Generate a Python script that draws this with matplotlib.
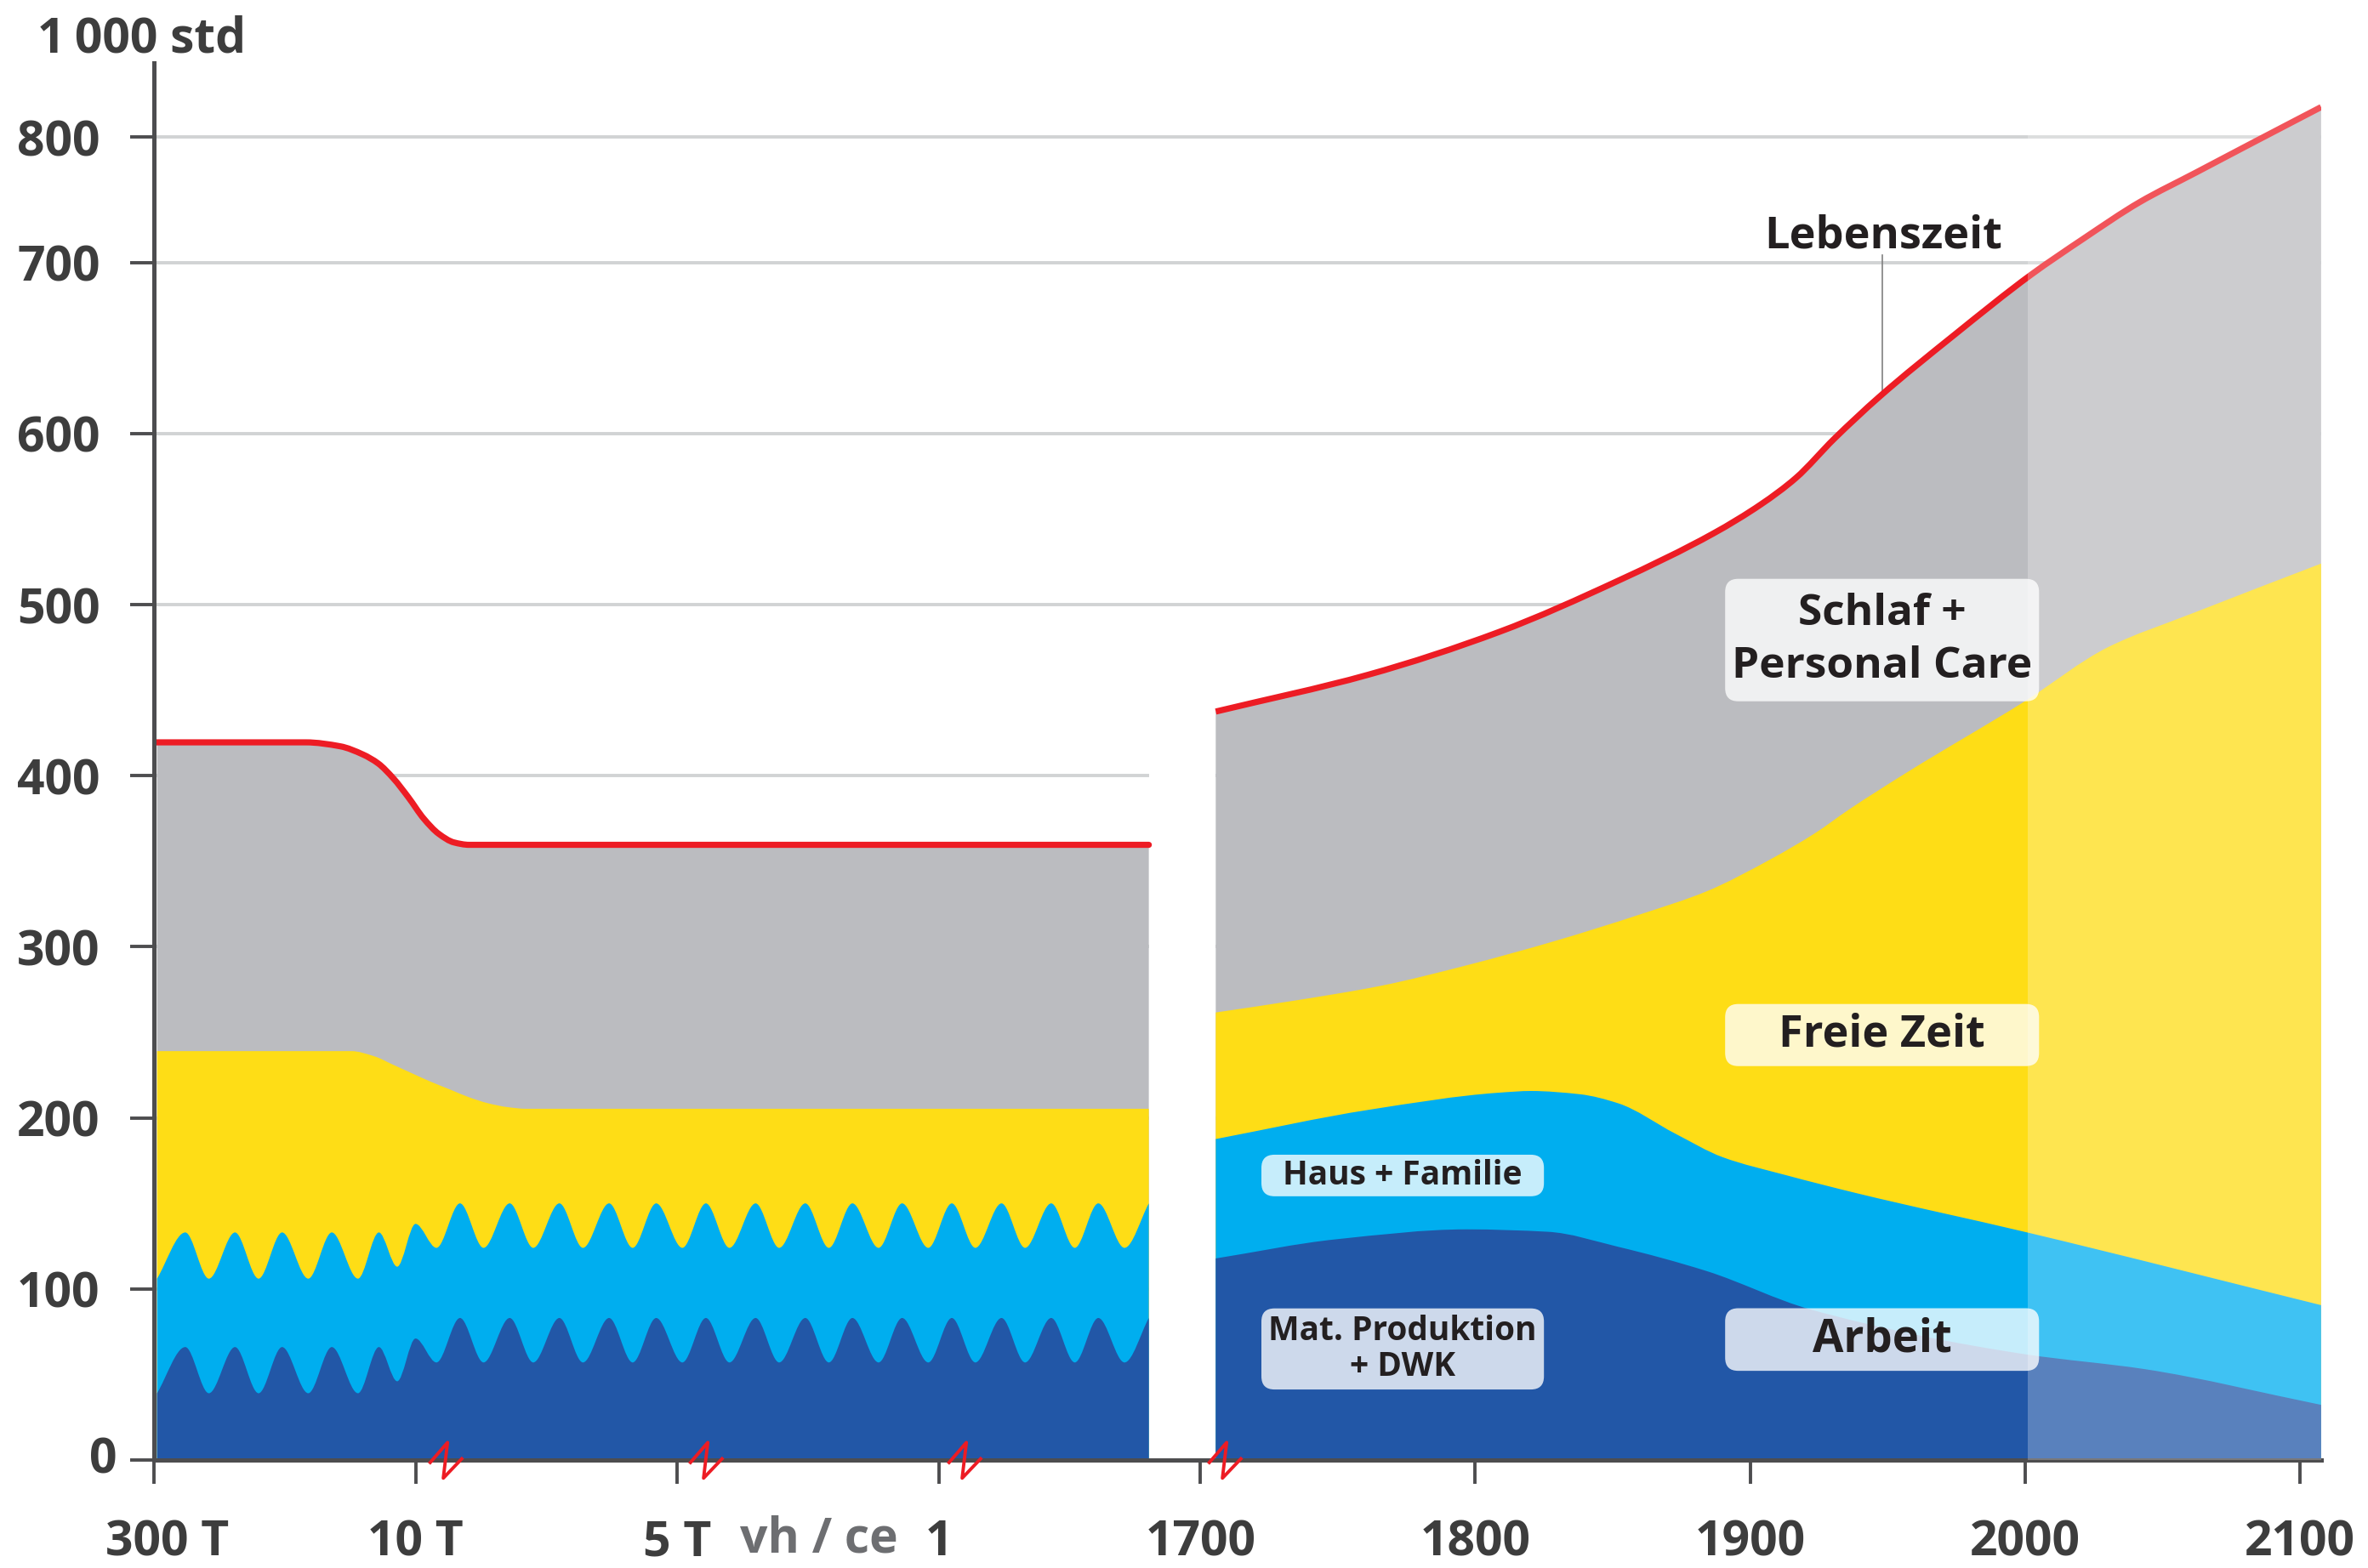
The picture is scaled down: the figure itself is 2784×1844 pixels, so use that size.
import numpy as np
import matplotlib
matplotlib.use("Agg")
import matplotlib.pyplot as plt
from matplotlib.path import Path
from matplotlib.patches import PathPatch, Rectangle, FancyBboxPatch
from matplotlib.transforms import ScaledTranslation

plt.rcParams["font.family"] = ["Open Sans", "DejaVu Sans"]

# ---------------- data ----------------
# left part, x = era position (0 = 300 T, 1 = 10 T, 2 = 5 T, 3 = year 1)
era_ticks = [0, 1, 2, 3]
era_labels = ["300 T", "10 T", "5 T", "1"]
era_breaks = [1.115, 2.11, 3.10]

left_life_x = [0.0, 0.581, 0.712, 0.799, 0.857, 0.915, 0.973, 1.031, 1.089,
               1.147, 1.205, 3.803]
left_life = [419.5, 419.5, 417.2, 412.4, 407.2, 398.5, 387.3, 375, 366,
             361, 359.6, 359.6]

left_free_x = [0.012, 0.755, 0.842, 0.915, 0.987, 1.060, 1.133, 1.205, 1.278,
               1.35, 1.423, 3.803]
left_free = [239, 239, 236, 231, 226, 221, 216.5, 212, 208.5, 206.3, 205.3, 205.3]

# wavy tops of "Haus + Familie" and "Arbeit" (troughs and peaks)
wave_x = [0.012, 0.12, 0.21, 0.31, 0.40, 0.49, 0.59, 0.68, 0.78,
          0.86, 0.93, 1.00, 1.08,
          1.17, 1.26, 1.36, 1.45, 1.55, 1.64, 1.74, 1.83, 1.92, 2.02,
          2.11, 2.20, 2.30, 2.39, 2.49, 2.58, 2.67, 2.77, 2.86, 2.96,
          3.05, 3.14, 3.24, 3.33, 3.43, 3.52, 3.61, 3.71, 3.803]
left_haus = [106, 133, 106, 133, 106, 133, 106, 133, 106,
             133, 113, 138, 124,
             150, 124, 150, 124, 150, 124, 150, 124, 150, 124,
             150, 124, 150, 124, 150, 124, 150, 124, 150, 124,
             150, 124, 150, 124, 150, 124, 150, 124, 150]
left_arbeit = [39, 66, 39, 66, 39, 66, 39, 66, 39,
               66, 46, 71, 57,
               83, 57, 83, 57, 83, 57, 83, 57, 83, 57,
               83, 57, 83, 57, 83, 57, 83, 57, 83, 57,
               83, 57, 83, 57, 83, 57, 83, 57, 83]

# right part, calendar years
year_ticks = [1700, 1800, 1900, 2000, 2100]
year_break = 1709
proj_start = 2001
right_end = 2107.7

life_years = [1705.6, 1761, 1808.6, 1852, 1886.6, 1904, 1916.6, 1930.6,
              1947, 1974.2, 2002.3, 2021.1, 2041.7, 2062.3, 2082.9, 2107.7]
life = [437.5, 459, 484, 514, 541.6, 558.7, 574, 597,
        621.5, 657.6, 693, 718.8, 748.1, 771.8, 795.5, 823.8]

free_years = [1705.6, 1734.1, 1765.7, 1797.2, 1828.8, 1860.3, 1884, 1907.7,
              1923.5, 1936.1, 1956.8, 2000, 2030, 2061, 2107.7]
free = [261.6, 268.5, 277.2, 289.3, 303.3, 319.1, 332.3, 351.4,
        366.3, 380.4, 401.7, 443.6, 475, 495, 524]

haus_years = [1705.6, 1761.3, 1808.6, 1820.3, 1838, 1852, 1872.6, 1890,
              1913, 1938.6, 2000, 2107.7]
haus = [187.6, 204.7, 214.7, 215.7, 213.8, 208.5, 190.9, 177,
        166.5, 156, 133.3, 90.5]

arbeit_years = [1705.6, 1749.4, 1796.8, 1826.3, 1852, 1884.2, 1921.9,
                2000, 2043.5, 2107.7]
arbeit = [117.8, 129, 134.8, 133.4, 124.6, 110.4, 88, 61.8, 53.1, 32.2]

y_ticks = [0, 100, 200, 300, 400, 500, 600, 700, 800]

C_GRAY = "#bbbcc0"
C_YELLOW = "#fedd16"
C_LBLUE = "#00aeef"
C_DBLUE = "#2257a7"
C_RED = "#ed1c24"
C_AXIS = "#4d4d4f"
C_TEXT = "#3d3d3d"


def to_pos(year):
    # years after the axis break: 1700 sits at position 4
    return 4 + (np.asarray(year, float) - 1700) * 0.010508


def fwd(v):
    v = np.asarray(v, float)
    return np.where(v <= 700, v, 700 + (v - 700) * 0.734)


def inv(u):
    u = np.asarray(u, float)
    return np.where(u <= 700, u, 700 + (u - 700) / 0.734)


def smooth(xs, ys):
    # monotone cubic through the points, built in the scaled (drawn) space
    xs = np.asarray(xs, float)
    ys = fwd(ys)
    d = np.diff(ys) / np.diff(xs)
    m = np.zeros_like(ys)
    m[0], m[-1] = d[0], d[-1]
    for i in range(1, len(xs) - 1):
        if d[i - 1] * d[i] > 0:
            h0, h1 = xs[i] - xs[i - 1], xs[i + 1] - xs[i]
            w1, w2 = 2 * h1 + h0, h1 + 2 * h0
            m[i] = (w1 + w2) / (w1 / d[i - 1] + w2 / d[i])
    verts = [(xs[0], ys[0])]
    codes = [Path.MOVETO]
    for i in range(len(xs) - 1):
        h = xs[i + 1] - xs[i]
        verts += [(xs[i] + h / 3, ys[i] + m[i] * h / 3),
                  (xs[i + 1] - h / 3, ys[i + 1] - m[i + 1] * h / 3),
                  (xs[i + 1], ys[i + 1])]
        codes += [Path.CURVE4] * 3
    verts = [(x, float(inv(y))) for x, y in verts]
    return verts, codes


def layer(ax, xs, ys, color, z):
    xs = list(xs)
    v, c = smooth(xs, ys)
    v = v + [(xs[-1], 0), (xs[0], 0), (xs[0], 0)]
    c = c + [Path.LINETO, Path.LINETO, Path.CLOSEPOLY]
    ax.add_patch(PathPatch(Path(v, c), fc=color, ec="none", lw=0, zorder=z))


def red_line(ax, xs, ys, cap):
    v, c = smooth(xs, ys)
    ax.add_patch(PathPatch(Path(v, c), fill=False, ec=C_RED, lw=2.6,
                           capstyle=cap, zorder=2.4))


fig = plt.figure(figsize=(13.92, 9.22), dpi=200)
ax = fig.add_axes([0.0650, 0.0689, 0.9152, 0.8910])
ax.set_yscale("function", functions=(fwd, inv))

# left part
layer(ax, [0.012] + left_life_x[1:], left_life, C_GRAY, 2.0)
layer(ax, left_free_x, left_free, C_YELLOW, 2.1)
layer(ax, wave_x, left_haus, C_LBLUE, 2.2)
layer(ax, wave_x, left_arbeit, C_DBLUE, 2.3)
red_line(ax, left_life_x, left_life, "round")

# right part
layer(ax, to_pos(life_years), life, C_GRAY, 2.0)
layer(ax, to_pos(free_years), free, C_YELLOW, 2.1)
layer(ax, to_pos(haus_years), haus, C_LBLUE, 2.2)
layer(ax, to_pos(arbeit_years), arbeit, C_DBLUE, 2.3)
red_line(ax, to_pos(life_years), life, "butt")

x_right = float(to_pos(right_end))
ax.set_xlim(0, x_right)
ax.set_ylim(0, 859)

# white gap between both parts
gap_left = left_life_x[-1]
ax.add_patch(Rectangle((gap_left, 0), float(to_pos(life_years[0])) - gap_left, 450,
                       fc="white", ec="none", zorder=1.0))

# projection shading after 2000
p0 = float(to_pos(proj_start))
ax.add_patch(Rectangle((p0, 0), x_right - p0, 859, fc="white", ec="none",
                       alpha=0.25, zorder=3))

# axes styling
ax.spines[["top", "right"]].set_visible(False)
for s in ["left", "bottom"]:
    ax.spines[s].set_color(C_AXIS)
    ax.spines[s].set_linewidth(1.8)
ax.set_axisbelow(True)
ax.yaxis.grid(True, color="#d1d3d4", lw=1.4)
ax.set_yticks(y_ticks)
ax.set_yticklabels([str(t) for t in y_ticks])
ax.minorticks_off()
xt = era_ticks + list(to_pos(year_ticks))
ax.set_xticks(xt)
ax.set_xticklabels(era_labels + [str(y) for y in year_ticks])
ax.tick_params(axis="both", length=10, width=1.4, color=C_AXIS,
               labelsize=20.5, labelcolor=C_TEXT)
ax.tick_params(axis="x", pad=14.5)
ax.tick_params(axis="y", pad=12.8)
for lab in ax.get_xticklabels() + ax.get_yticklabels():
    lab.set_fontweight("bold")
xl0 = ax.get_xticklabels()[0]
xl0.set_transform(xl0.get_transform() + ScaledTranslation(0.08, 0, fig.dpi_scale_trans))
yl0 = ax.get_yticklabels()[0]
yl0.set_transform(yl0.get_transform() + ScaledTranslation(0.1, 0.03, fig.dpi_scale_trans))

# axis break marks
zig = Path([(-7.2, -1.4), (0.6, 7.6), (-1.2, -7.5), (7.1, 1.2)],
           [Path.MOVETO, Path.LINETO, Path.LINETO, Path.LINETO])
bx = era_breaks + [float(to_pos(year_break))]
ax.plot(bx, [0] * len(bx), ls="none", marker=zig, markersize=15.2,
        mfc="none", mec=C_RED, mew=1.4, clip_on=False, zorder=6)

ax.text(2.541, -0.0572, "vh / ce", transform=ax.get_xaxis_transform(),
        ha="center", va="center", fontsize=20.5, fontweight="bold",
        color="#6d6e71")
fig.text(94 / 1568, 1 - 62 / 1844, "1\u2009000 std", ha="center", va="baseline",
         fontsize=20.5, fontweight="bold", color=C_TEXT,
         family=["Open Sans", "DejaVu Sans"])

# Lebenszeit annotation
lx = float(to_pos(1948))
ax.plot([lx, lx], [622.5, 706], color="#808080", lw=0.6, zorder=2.35)
ax.text(float(to_pos(1948.5)), 712, "Lebenszeit", ha="center", va="baseline",
        fontsize=18.8, fontweight="bold", color="#231f20", zorder=5)

# category labels
box_labels = [
    ("Schlaf +\nPersonal Care", 1948, 479.3, 1.200, 71.6, 18.5, 1.32),
    ("Freie Zeit", 1948, 248.4, 1.200, 36.3, 18.8, 1.2),
    ("Arbeit", 1948, 70.4, 1.200, 36.6, 19, 1.2),
    ("Haus + Familie", 1773.6, 166.3, 1.080, 24.3, 14, 1.2),
    ("Mat. Produktion\n+ DWK", 1773.6, 64.9, 1.080, 47.4, 14, 1.12),
]
for text, yr, yc, w, h, fs, ls in box_labels:
    xc = float(to_pos(yr))
    ax.add_patch(FancyBboxPatch((xc - w / 2, yc - h / 2), w, h,
                                boxstyle="round,pad=0,rounding_size=0.05",
                                mutation_aspect=153, fc="white", ec="none",
                                alpha=0.78, zorder=4))
    ax.text(xc, yc, text, ha="center", va="center", fontsize=fs,
            fontweight="bold", color="#231f20", linespacing=ls, zorder=5)

fig.savefig("out.png", dpi=200)
